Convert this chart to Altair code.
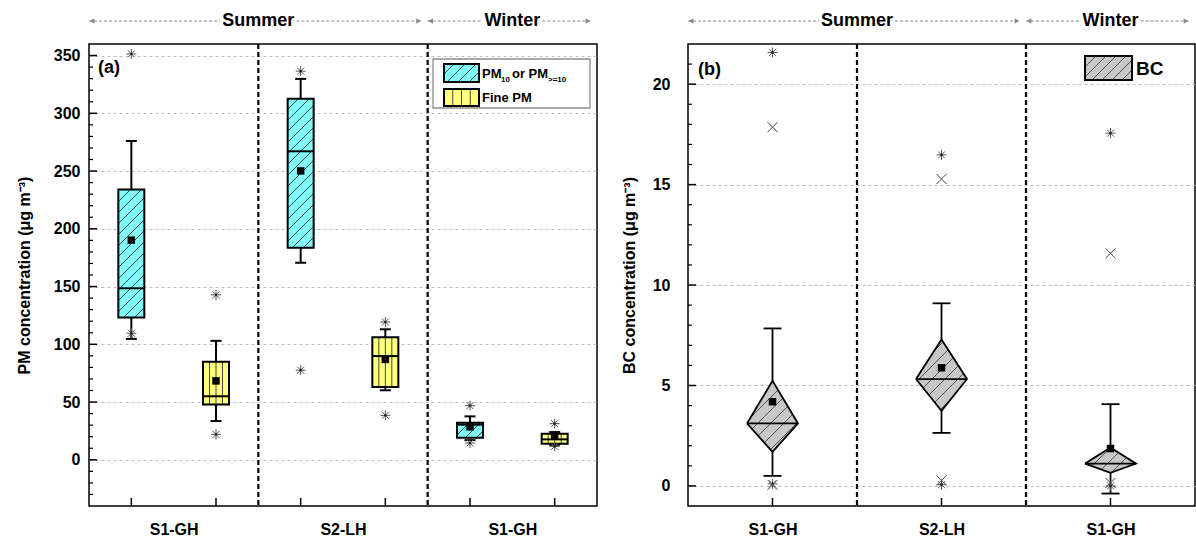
import altair as alt
import numpy as np
import pandas as pd

FONT = "Liberation Sans"

# ---------------- values ----------------
sites = ["S1-GH", "S2-LH", "S1-GH"]
season_names = ["Summer", "Winter"]
season_start = [0, 2]      # first section of each season
season_end = [2, 3]        # section after the last one

# PM panel: one box per (section, kind); kind 0 = PM10 or PM>=10, kind 1 = fine PM
pm_section = [0, 0, 1, 1, 2, 2]
pm_kind = [0, 1, 0, 1, 0, 1]
pm_wlo = [104.7, 33.6, 170.6, 60.2, 17.0, 13.0]
pm_q1 = [123.1, 47.8, 183.6, 63.1, 19.1, 13.9]
pm_med = [148.5, 55.0, 267.1, 89.8, 30.4, 17.7]
pm_q3 = [234.0, 84.8, 312.6, 106.0, 32.1, 22.6]
pm_whi = [276.0, 103.0, 329.8, 113.0, 37.6, 24.0]
pm_mean = [190.2, 68.3, 250.1, 86.9, 28.5, 20.6]
pm_out_box = [0, 0, 1, 1, 2, 2, 3, 3, 4, 4, 5, 5]
pm_out_val = [351.4, 109.6, 142.8, 22.0, 336.5, 77.6, 119.3, 38.5, 46.9, 14.5, 31.3, 11.6]

# BC panel
bc_section = [0, 1, 2]
bc_wlo = [0.50, 2.64, -0.38]
bc_q1 = [1.69, 3.74, 0.65]
bc_med = [3.11, 5.32, 1.11]
bc_q3 = [5.23, 7.29, 1.91]
bc_whi = [7.84, 9.09, 4.07]
bc_mean = [4.19, 5.88, 1.86]
bc_star_box = [0, 0, 1, 1, 2, 2]
bc_star_val = [21.58, 0.10, 16.48, 0.06, 17.56, 0.0]
bc_cross_box = [0, 0, 1, 1, 2, 2]
bc_cross_val = [17.86, 0.05, 15.28, 0.28, 11.58, 0.15]

pm_major = list(range(0, 351, 50))
pm_minor = [v for v in range(-30, 360, 10) if v % 50]
bc_major = list(range(0, 21, 5))
bc_minor = [v for v in range(1, 22) if v % 5]

# ---------------- layout / style ----------------
WL, WR, H = 508, 507, 462
PM_DOM = [-40, 360]
BC_DOM = [-1, 22]
NSEC = len(sites)
CYAN, YELLOW, GRAY = "#80ffff", "#ffff80", "#c8c8c8"
HATCH = "#333333"
ASTER = "M-1,0L1,0M0,-1L0,1M-0.7,-0.7L0.7,0.7M-0.7,0.7L0.7,-0.7"
XMARK = "M-1,-1L1,1M-1,1L1,-1"
AW = {'S': .667, 'u': .611, 'm': .889, 'e': .556, 'r': .389, 'W': .944, 'i': .278, 'n': .611, 't': .333}


def tw(s, fs):
    return sum(AW.get(ch, .6) for ch in s) * fs


def rect_hatch(x0, x1, y0, y1, period):
    segs = []
    cmin, cmax = y0 - x1, y1 - x0
    c = np.floor(cmin / period) * period
    while c <= cmax:
        xa = max(x0, y0 - c)
        xb = min(x1, y1 - c)
        if xb - xa > 0.8:
            segs.append((xa, xa + c, xb, xb + c))
        c += period
    return segs


def poly_hatch(verts, period):
    segs = []
    xs_ = [v[0] for v in verts]
    ys_ = [v[1] for v in verts]
    cmin, cmax = min(ys_) - max(xs_), max(ys_) - min(xs_)
    c = np.floor(cmin / period) * period
    n = len(verts)
    while c <= cmax:
        pts = []
        for i in range(n):
            P, Q = verts[i], verts[(i + 1) % n]
            dx, dy = Q[0] - P[0], Q[1] - P[1]
            den = dy - dx
            if abs(den) < 1e-9:
                continue
            t = (c - P[1] + P[0]) / den
            if -1e-9 <= t <= 1 + 1e-9:
                pts.append(P[0] + t * dx)
        if len(pts) >= 2:
            xa, xb = min(pts), max(pts)
            if xb - xa > 0.8:
                segs.append((xa, xa + c, xb, xb + c))
        c += period
    return segs


def PX(f):
    return alt.X(f"{f}:Q", scale=None, axis=None)


def PY(f):
    return alt.Y(f"{f}:Q", scale=None, axis=None)


def yaxis(values, title, lab_pad, extent, title_pad):
    return alt.Axis(values=values, title=title, grid=True, gridDash=[3, 3], gridColor="#bdbdbd",
                    gridWidth=1, ticks=False, tickSize=0, domain=False,
                    labelFont=FONT, labelFontWeight="bold", labelFontSize=16, labelColor="black",
                    labelPadding=lab_pad, minExtent=extent, maxExtent=extent,
                    titleFont=FONT, titleFontWeight="bold", titleFontSize=16, titleColor="black",
                    titlePadding=title_pad)


def xaxis(values, expr):
    return alt.Axis(values=values, labelExpr=expr, title=None, grid=False, ticks=False, tickSize=0,
                    domain=False, labelFont=FONT, labelFontWeight="bold", labelFontSize=16,
                    labelColor="black", labelPadding=15)


class Enc:
    """x / y encodings that always carry the same scale and axis."""

    def __init__(self, xs, ys, xax, yax):
        self.xs, self.ys, self.xax, self.yax = xs, ys, xax, yax

    def X(self, f):
        return alt.X(f"{f}:Q", scale=self.xs, axis=self.xax)

    def Y(self, f):
        return alt.Y(f"{f}:Q", scale=self.ys, axis=self.yax)


def outlier_layers(E, df, shape):
    return [
        alt.Chart(df).mark_point(shape=shape, filled=False, color="#555555", strokeWidth=1, opacity=1,
                                 size=100).encode(x=E.X("x"), y=E.Y("y")),
        alt.Chart(df).mark_point(shape="circle", filled=True, color="#111111", opacity=1,
                                 size=5).encode(x=E.X("x"), y=E.Y("y")),
    ]


def common_layers(E, kx, per_sec, sep_vals, box_x, major, minor):
    lay = []
    sep = pd.DataFrame({"x": sep_vals})
    lay.append(alt.Chart(sep).mark_rule(color="black", strokeWidth=2.2, strokeDash=[5, 3]).encode(x=E.X("x")))
    tmaj = pd.DataFrame({"v": major})
    tmin = pd.DataFrame({"v": minor})
    lay.append(alt.Chart(tmaj).mark_rule(color="black", strokeWidth=1.5).encode(
        x=alt.value(0), x2=alt.value(8), y=E.Y("v")))
    lay.append(alt.Chart(tmin).mark_rule(color="black", strokeWidth=1.2).encode(
        x=alt.value(0), x2=alt.value(4), y=E.Y("v")))
    tx = pd.DataFrame({"x": box_x})
    lay.append(alt.Chart(tx).mark_rule(color="black", strokeWidth=1.5).encode(
        x=E.X("x"), y=alt.value(H), y2=alt.value(H - 8)))
    # season header
    lines, txt, la, ra = [], [], [], []
    for name, a0, b0 in zip(season_names, season_start, season_end):
        a, b = a0 * per_sec, b0 * per_sec
        c = (a + b) / 2
        hw = tw(name, 18) / 2 + 2
        bt = b - 6.0 / kx
        lines += [dict(x=a, x2=c - hw / kx), dict(x=c + hw / kx, x2=bt)]
        txt.append(dict(x=c, t=name))
        la.append(dict(x=a))
        ra.append(dict(x=bt))
    lay.append(alt.Chart(pd.DataFrame(lines)).mark_rule(color="#8a8a8a", strokeWidth=1.2, strokeDash=[3, 2]).encode(
        x=E.X("x"), x2="x2:Q", y=alt.value(-23)))
    lay.append(alt.Chart(pd.DataFrame(txt)).mark_text(font=FONT, fontWeight="bold", fontSize=18,
                                                      baseline="middle", color="black").encode(
        x=E.X("x"), y=alt.value(-23), text="t:N"))
    lay.append(alt.Chart(pd.DataFrame(la)).mark_point(shape="triangle-left", filled=True, size=30,
                                                     color="#8a8a8a", opacity=1, xOffset=3).encode(
        x=E.X("x"), y=alt.value(-23)))
    lay.append(alt.Chart(pd.DataFrame(ra)).mark_point(shape="triangle-right", filled=True, size=30,
                                                     color="#8a8a8a", opacity=1, xOffset=-3).encode(
        x=E.X("x"), y=alt.value(-23)))
    return lay


# ================= left panel (PM) =================
kxL = WL / (2 * NSEC)
kyL = H / (PM_DOM[1] - PM_DOM[0])
BHW, CHW = 13, 5.5
label_exprL = "[" + ",".join(f"'{s}'" for s in sites) + "][floor(datum.value/2)]"
EL = Enc(alt.Scale(domain=[0, 2 * NSEC], nice=False, zero=False),
         alt.Scale(domain=PM_DOM, nice=False, zero=False),
         xaxis([1, 3, 5], label_exprL),
         yaxis(pm_major, "PM concentration (\u03bcg m\u207b\u00b3)", 9, 36, 21))

pm_x = [s * 2 + k + 0.5 for s, k in zip(pm_section, pm_kind)]
pm = pd.DataFrame(dict(x=pm_x, xl=[x - BHW / kxL for x in pm_x], xr=[x + BHW / kxL for x in pm_x],
                       cl=[x - CHW / kxL for x in pm_x], cr=[x + CHW / kxL for x in pm_x],
                       wlo=pm_wlo, q1=pm_q1, med=pm_med, q3=pm_q3, whi=pm_whi, mean=pm_mean,
                       kind=pm_kind))

hatch_rows = []
for x, q1, q3, k in zip(pm_x, pm_q1, pm_q3, pm_kind):
    if k == 0:
        segs = rect_hatch(x * kxL - BHW, x * kxL + BHW, (q1 - PM_DOM[0]) * kyL, (q3 - PM_DOM[0]) * kyL, 11)
        for xa, ya, xb, yb in segs:
            hatch_rows.append(dict(xa=xa / kxL, ya=ya / kyL + PM_DOM[0], xb=xb / kxL, yb=yb / kyL + PM_DOM[0]))
    else:
        for f in (-0.5, 0.0, 0.5):
            xx = x + f * BHW / kxL
            hatch_rows.append(dict(xa=xx, ya=q1, xb=xx, yb=q3))
hatch_df = pd.DataFrame(hatch_rows)

whisk = pd.DataFrame(dict(x=pm_x * 2, y=pm_wlo + pm_q3, y2=pm_q1 + pm_whi))
caps = pd.DataFrame(dict(cl=list(pm.cl) * 2, cr=list(pm.cr) * 2, y=pm_wlo + pm_whi))
outl = pd.DataFrame(dict(x=[pm_x[i] for i in pm_out_box], y=pm_out_val))

L = []
L.append(alt.Chart(pm).mark_rect(strokeWidth=0).encode(
    x=EL.X("xl"), x2="xr:Q", y=EL.Y("q1"), y2="q3:Q",
    fill=alt.Fill("kind:N", scale=alt.Scale(domain=[0, 1], range=[CYAN, YELLOW]), legend=None)))
L += common_layers(EL, kxL, 2, [2, 4], pm_x, pm_major, pm_minor)
L.append(alt.Chart(hatch_df).mark_rule(color=HATCH, strokeWidth=0.9).encode(
    x=EL.X("xa"), x2="xb:Q", y=EL.Y("ya"), y2="yb:Q"))
L.append(alt.Chart(pm).mark_rect(fillOpacity=0, stroke="black", strokeWidth=2).encode(
    x=EL.X("xl"), x2="xr:Q", y=EL.Y("q1"), y2="q3:Q"))
L.append(alt.Chart(pm).mark_rule(color="black", strokeWidth=2).encode(
    x=EL.X("xl"), x2="xr:Q", y=EL.Y("med")))
L.append(alt.Chart(whisk).mark_rule(color="black", strokeWidth=2).encode(
    x=EL.X("x"), y=EL.Y("y"), y2="y2:Q"))
L.append(alt.Chart(caps).mark_rule(color="black", strokeWidth=2).encode(
    x=EL.X("cl"), x2="cr:Q", y=EL.Y("y")))
L.append(alt.Chart(pm).mark_point(shape="square", filled=True, color="black", opacity=1, size=56).encode(
    x=EL.X("x"), y=EL.Y("mean")))
L += outlier_layers(EL, outl, ASTER)
L.append(alt.Chart(pd.DataFrame({"t": ["(a)"]})).mark_text(
    font=FONT, fontWeight="bold", fontSize=18, align="left", baseline="middle", color="black").encode(
    x=alt.value(9), y=alt.value(24), text="t:N"))

# legend (pixel positions inside the plot area)
leg_box = pd.DataFrame(dict(x=[344], x2=[501], y=[15], y2=[64]))
L.append(alt.Chart(leg_box).mark_rect(fill="white", stroke="#8c8c8c", strokeWidth=1.3).encode(
    x=PX("x"), x2="x2:Q", y=PY("y"), y2="y2:Q"))
sw = pd.DataFrame(dict(x=[355, 355], x2=[390, 390], y=[20, 45], y2=[38, 62], kind=[0, 1]))
L.append(alt.Chart(sw).mark_rect(strokeWidth=0).encode(
    x=PX("x"), x2="x2:Q", y=PY("y"), y2="y2:Q",
    fill=alt.Fill("kind:N", scale=alt.Scale(domain=[0, 1], range=[CYAN, YELLOW]), legend=None)))
leg_h = []
for xa, ya, xb, yb in rect_hatch(355, 390, -38, -20, 11):
    leg_h.append(dict(xa=xa, ya=-ya, xb=xb, yb=-yb))
for xx in (363.75, 372.5, 381.25):
    leg_h.append(dict(xa=xx, ya=45, xb=xx, yb=62))
L.append(alt.Chart(pd.DataFrame(leg_h)).mark_rule(color=HATCH, strokeWidth=0.9).encode(
    x=PX("xa"), x2="xb:Q", y=PY("ya"), y2="yb:Q"))
L.append(alt.Chart(sw).mark_rect(fillOpacity=0, stroke="black", strokeWidth=2).encode(
    x=PX("x"), x2="x2:Q", y=PY("y"), y2="y2:Q"))
big = pd.DataFrame(dict(x=[393, 423, 393], y=[34, 34, 58], t=["PM", "or PM", "Fine PM"]))
small = pd.DataFrame(dict(x=[412, 459], y=[38, 38], t=["10", ">=10"]))
L.append(alt.Chart(big).mark_text(font=FONT, fontWeight="bold", fontSize=13, align="left",
                                  baseline="alphabetic", color="black").encode(x=PX("x"), y=PY("y"), text="t:N"))
L.append(alt.Chart(small).mark_text(font=FONT, fontWeight="bold", fontSize=8, align="left",
                                    baseline="alphabetic", color="black").encode(x=PX("x"), y=PY("y"), text="t:N"))

left = alt.layer(*L).properties(width=WL, height=H)

# ================= right panel (BC) =================
kxR = WR / NSEC
kyR = H / (BC_DOM[1] - BC_DOM[0])
DHW, CHWR = 25.5, 9
bc_x = [s + 0.5 for s in bc_section]
label_exprR = "[" + ",".join(f"'{s}'" for s in sites) + "][floor(datum.value)]"
ER = Enc(alt.Scale(domain=[0, NSEC], nice=False, zero=False),
         alt.Scale(domain=BC_DOM, nice=False, zero=False),
         xaxis(bc_x, label_exprR),
         yaxis(bc_major, "BC concentration (\u03bcg m\u207b\u00b3)", 18, 36, 15))

bc = pd.DataFrame(dict(x=bc_x, xl=[x - DHW / kxR for x in bc_x], xr=[x + DHW / kxR for x in bc_x],
                       cl=[x - CHWR / kxR for x in bc_x], cr=[x + CHWR / kxR for x in bc_x],
                       wlo=bc_wlo, q1=bc_q1, med=bc_med, q3=bc_q3, whi=bc_whi, mean=bc_mean))
area_rows, outline_rows, bh_rows = [], [], []
for i, (x, q1, md, q3) in enumerate(zip(bc_x, bc_q1, bc_med, bc_q3)):
    d = DHW / kxR
    area_rows += [dict(b=i, x=x - d, y=md, y2=md), dict(b=i, x=x, y=q3, y2=q1), dict(b=i, x=x + d, y=md, y2=md)]
    for j, (xx, yy) in enumerate([(x - d, md), (x, q3), (x + d, md), (x, q1), (x - d, md)]):
        outline_rows.append(dict(b=i, o=j, x=xx, y=yy))
    cx = x * kxR
    verts = [(cx - DHW, (md - BC_DOM[0]) * kyR), (cx, (q3 - BC_DOM[0]) * kyR),
             (cx + DHW, (md - BC_DOM[0]) * kyR), (cx, (q1 - BC_DOM[0]) * kyR)]
    for xa, ya, xb, yb in poly_hatch(verts, 13):
        bh_rows.append(dict(xa=xa / kxR, ya=ya / kyR + BC_DOM[0], xb=xb / kxR, yb=yb / kyR + BC_DOM[0]))

whiskR = pd.DataFrame(dict(x=bc_x * 2, y=bc_wlo + bc_q3, y2=bc_q1 + bc_whi))
capsR = pd.DataFrame(dict(cl=list(bc.cl) * 2, cr=list(bc.cr) * 2, y=bc_wlo + bc_whi))
starR = pd.DataFrame(dict(x=[bc_x[i] for i in bc_star_box], y=bc_star_val))
crossR = pd.DataFrame(dict(x=[bc_x[i] for i in bc_cross_box], y=bc_cross_val))

R = []
R.append(alt.Chart(pd.DataFrame(area_rows)).mark_area(color=GRAY, opacity=1, strokeWidth=0).encode(
    x=ER.X("x"), y=ER.Y("y"), y2="y2:Q", detail="b:N"))
R += common_layers(ER, kxR, 1, [1, 2], bc_x, bc_major, bc_minor)
R.append(alt.Chart(pd.DataFrame(bh_rows)).mark_rule(color="#444444", strokeWidth=0.9).encode(
    x=ER.X("xa"), x2="xb:Q", y=ER.Y("ya"), y2="yb:Q"))
R.append(alt.Chart(pd.DataFrame(outline_rows)).mark_line(color="black", strokeWidth=1.8).encode(
    x=ER.X("x"), y=ER.Y("y"), detail="b:N", order="o:Q"))
R.append(alt.Chart(bc).mark_rule(color="black", strokeWidth=1.8).encode(
    x=ER.X("xl"), x2="xr:Q", y=ER.Y("med")))
R.append(alt.Chart(whiskR).mark_rule(color="black", strokeWidth=1.8).encode(
    x=ER.X("x"), y=ER.Y("y"), y2="y2:Q"))
R.append(alt.Chart(capsR).mark_rule(color="black", strokeWidth=1.8).encode(
    x=ER.X("cl"), x2="cr:Q", y=ER.Y("y")))
R.append(alt.Chart(bc).mark_point(shape="square", filled=True, color="black", opacity=1, size=56).encode(
    x=ER.X("x"), y=ER.Y("mean")))
R += outlier_layers(ER, starR, ASTER)
R.append(alt.Chart(crossR).mark_point(shape=XMARK, filled=False, color="#444444", strokeWidth=1, opacity=1,
                                      size=100).encode(x=ER.X("x"), y=ER.Y("y")))
R.append(alt.Chart(pd.DataFrame({"t": ["(b)"]})).mark_text(
    font=FONT, fontWeight="bold", fontSize=18, align="left", baseline="middle", color="black").encode(
    x=alt.value(10), y=alt.value(26), text="t:N"))
swR = pd.DataFrame(dict(x=[397], x2=[444], y=[12], y2=[36]))
R.append(alt.Chart(swR).mark_rect(fill=GRAY, strokeWidth=0).encode(x=PX("x"), x2="x2:Q", y=PY("y"), y2="y2:Q"))
legR = [dict(xa=xa, ya=-ya, xb=xb, yb=-yb) for xa, ya, xb, yb in rect_hatch(397, 444, -36, -12, 10)]
R.append(alt.Chart(pd.DataFrame(legR)).mark_rule(color="#444444", strokeWidth=0.9).encode(
    x=PX("xa"), x2="xb:Q", y=PY("ya"), y2="yb:Q"))
R.append(alt.Chart(swR).mark_rect(fillOpacity=0, stroke="black", strokeWidth=2).encode(
    x=PX("x"), x2="x2:Q", y=PY("y"), y2="y2:Q"))
R.append(alt.Chart(pd.DataFrame(dict(x=[448], y=[25], t=["BC"]))).mark_text(
    font=FONT, fontWeight="bold", fontSize=19, align="left", baseline="middle", color="black").encode(
    x=PX("x"), y=PY("y"), text="t:N"))

right = alt.layer(*R).properties(width=WR, height=H)

chart = alt.hconcat(left, right, spacing=91, bounds="flush").properties(
    padding={"left": 15, "top": 11, "right": 0, "bottom": 0}, background="white"
).configure_view(stroke="black", strokeWidth=1.5)

chart.save("out.html", embed_options={"renderer": "svg", "actions": False})
